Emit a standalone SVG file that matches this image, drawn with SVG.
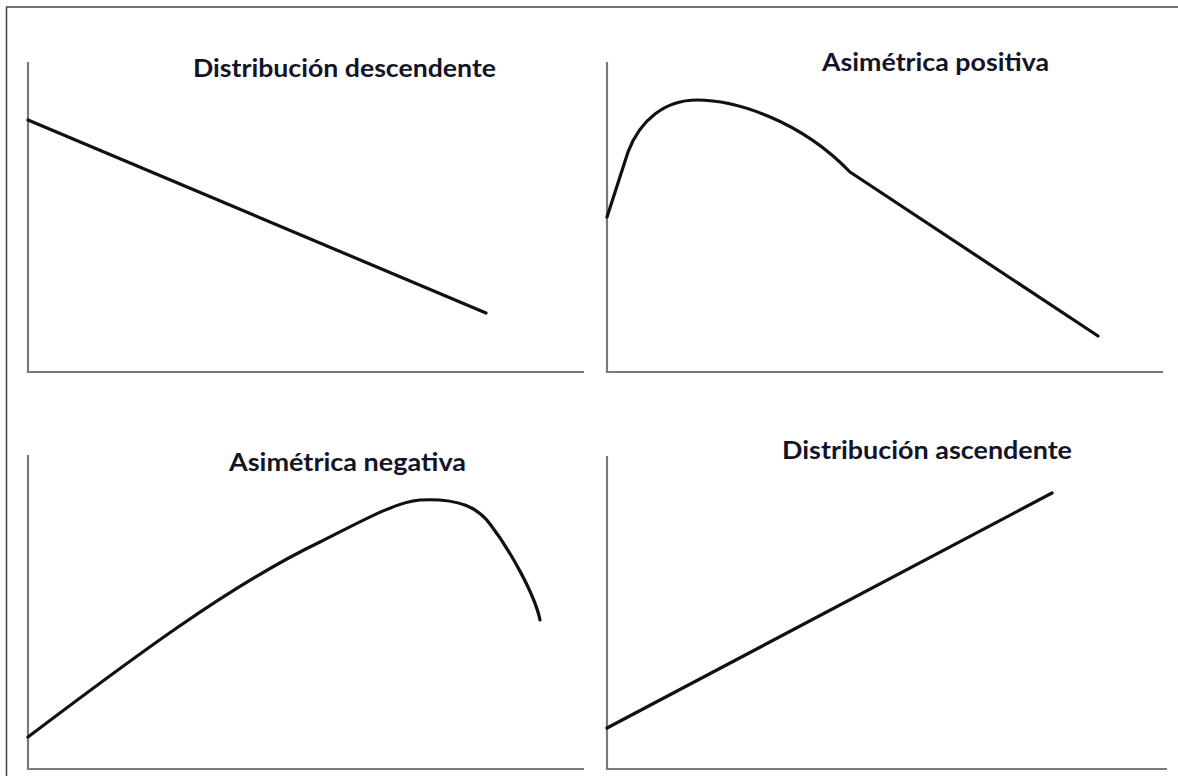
<svg xmlns="http://www.w3.org/2000/svg" width="1178" height="776" viewBox="0 0 1178 776">
<style>
.axis{fill:none;stroke:#7a7a7a;stroke-width:2.2}
.curve{fill:none;stroke:#111;stroke-width:3.2;stroke-linecap:round;stroke-linejoin:round}
.title{font-family:Lato,"Open Sans","Liberation Sans",sans-serif;font-weight:bold;font-size:24px;fill:#141428}
</style>
<rect width="1178" height="776" fill="#fff"/>
<path d="M6.5,776 V7 H1178" fill="none" stroke="#444" stroke-width="1.5"/>
<g id="panel-descendente">
<path class="axis" d="M28,62 V372 H584"/>
<path class="curve" d="M28,120 L486,313"/>
<text class="title" x="193" y="77" textLength="303" lengthAdjust="spacingAndGlyphs">Distribución descendente</text>
</g>
<g id="panel-positiva">
<path class="axis" d="M607,62 V372 H1163"/>
<path class="curve" d="M607,217 L628,152 C640,120 665,100 697,100 C735,100 800,120 850,172 L1098,336"/>
<text class="title" x="822" y="71" textLength="227" lengthAdjust="spacingAndGlyphs">Asimétrica positiva</text>
</g>
<g id="panel-negativa">
<path class="axis" d="M28,455 V769 H584"/>
<path class="curve" d="M28,737 C130,660 230,585 320,542 C360,522 395,502 420,500 C460,498 478,508 490,524 C510,550 535,595 540,620"/>
<text class="title" x="229" y="471" textLength="237" lengthAdjust="spacingAndGlyphs">Asimétrica negativa</text>
</g>
<g id="panel-ascendente">
<path class="axis" d="M607,456 V769 H1167"/>
<path class="curve" d="M607,728 L1052,493"/>
<text class="title" x="782" y="459" textLength="290" lengthAdjust="spacingAndGlyphs">Distribución ascendente</text>
</g>
<g id="connectors"/>
</svg>
